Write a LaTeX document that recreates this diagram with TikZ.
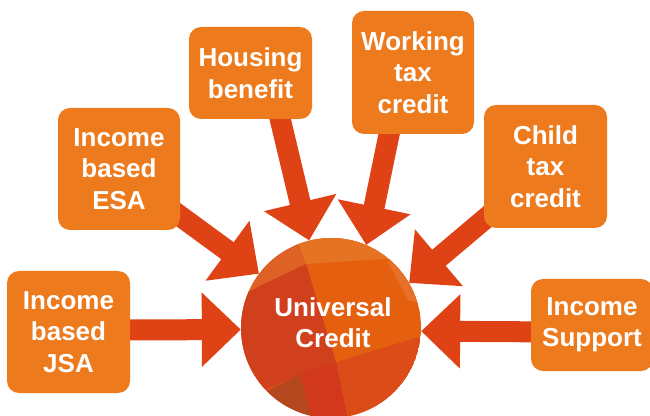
\documentclass[tikz,border=0pt]{standalone}
\usepackage{fontspec}
\setmainfont{Liberation Sans}
\usetikzlibrary{arrows.meta}
\pgfdeclarelayer{bg}
\pgfsetlayers{bg,main}
\definecolor{boxorange}{HTML}{EE7A1E}
\definecolor{arrowred}{HTML}{DF4215}
\definecolor{ucbase}{HTML}{DB4C19}
\definecolor{ucorange}{HTML}{E4600F}
\definecolor{uclight}{HTML}{E67322}
\definecolor{ucband}{HTML}{DE6226}
\definecolor{ucred}{HTML}{D0401D}
\definecolor{ucbrown}{HTML}{B5471E}
\definecolor{ucstrip}{HTML}{E6702A}
\definecolor{ucdeep}{HTML}{D2391C}
\tikzset{
  x=1pt, y=1pt,
  srcbox/.style={fill=boxorange, rounded corners=12pt, text=white,
    font=\fontsize{26}{31.5}\selectfont\bfseries, align=center,
    inner sep=0pt, text width=120pt},
  bigarrow/.style={draw=arrowred, line width=21pt,
    -{Triangle[length=39pt,width=72pt]}, arrowred},
  uctext/.style={circle, minimum size=180pt, inner sep=0pt}
}
\begin{document}
\begin{tikzpicture}
\useasboundingbox (0,0) rectangle (650,415);
% circle background with patches
\begin{scope}
  \clip (331,87) circle (90);
  \fill[ucbase] (331,87) circle (90);
  \begin{scope}[yshift=415pt, yscale=-1]
    \fill[ucorange] (306,264) -- (336,362) -- (425,335) -- (425,230) -- (330,230) -- cycle;
    \fill[uclight] (298,244) -- (306,228) -- (395,228) -- (425,240) -- (398,258) -- (306,264) -- cycle;
    \fill[ucstrip] (388,262) -- (404,256) -- (425,292) -- (425,305) -- (408,300) -- cycle;
    \fill[ucband] (241,276) -- (298,244) -- (306,264) -- (260,286) -- (241,296) -- cycle;
    \fill[ucred] (241,296) -- (260,286) -- (306,264) -- (336,362) -- (300,374) -- (241,400) -- cycle;
    \fill[ucbrown] (262,394) -- (300,374) -- (312,420) -- (258,420) -- cycle;
    \fill[ucdeep] (300,374) -- (336,362) -- (348,420) -- (312,420) -- cycle;
  \end{scope}
\end{scope}
\node[uctext] (uc) at (331,87) {};
\node[text=white, font=\fontsize{26}{31}\selectfont\bfseries, align=center] (uclabel) at (333,92) {Universal\\Credit};

% source boxes
\node[srcbox, minimum width=123pt, minimum height=122pt] (jsa) at (68.5,83) {Income\\based\\JSA};
\node[srcbox, minimum width=122pt, minimum height=122pt] (esa) at (119,246) {Income\\based\\ESA};
\node[srcbox, minimum width=123pt, minimum height=92pt] (hb) at (250.5,342) {Housing\\benefit};
\node[srcbox, minimum width=122pt, minimum height=123pt] (wtc) at (413,342.5) {Working\\tax\\credit};
\node[srcbox, minimum width=123pt, minimum height=123pt] (ctc) at (545.5,248.5) {Child\\tax\\credit};
\node[srcbox, minimum width=122pt, minimum height=92pt] (is) at (592,90) {Income\\Support};

% arrow start points inside the boxes
\coordinate (s1) at (110,85);
\coordinate (s2) at (150,221);
\coordinate (s3) at (278,305);
\coordinate (s4) at (391,290);
\coordinate (s5) at (505,213);
\coordinate (s6) at (560,83);

\begin{pgfonlayer}{bg}
  \draw[bigarrow] (s1) -- (uc.181);
  \draw[bigarrow] (s2) -- (uc.143.4);
  \draw[bigarrow] (s3) -- (uc.104.6);
  \draw[bigarrow] (s4) -- (uc.67.4);
  \draw[bigarrow] (s5) -- (uc.30.5);
  \draw[bigarrow] (s6) -- (uc.-2.6);
\end{pgfonlayer}
\end{tikzpicture}
\end{document}
